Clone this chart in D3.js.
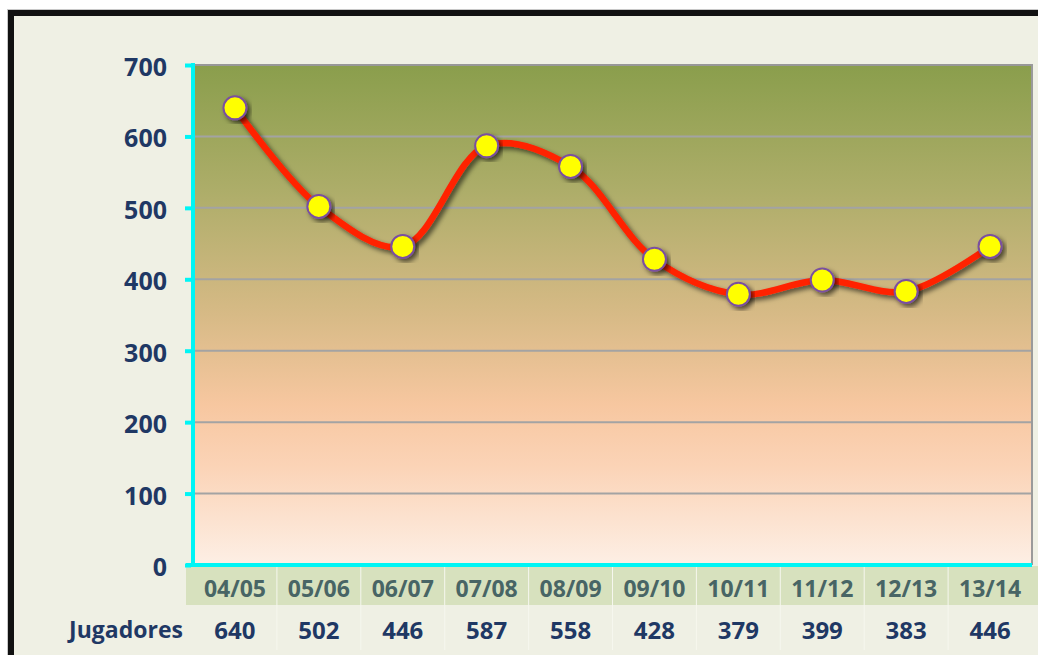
<!DOCTYPE html>
<html lang="es">
<head>
    <meta charset="UTF-8">
    <title>Jugadores</title>
    <style>
        html, body { margin: 0; padding: 0; background: #ffffff; overflow: hidden; }
        #chart { display: block; }
        text { font-family: "Open Sans", "Lato", sans-serif; font-weight: 700; }
    </style>
    <script src="https://d3js.org/d3.v7.min.js"></script>
</head>
<body>
    <svg id="chart"></svg>
    <script>
        const seasons = ['04/05', '05/06', '06/07', '07/08', '08/09', '09/10', '10/11', '11/12', '12/13', '13/14'];
        const jugadores = [640, 502, 446, 587, 558, 428, 379, 399, 383, 446];
        const yTicks = [0, 100, 200, 300, 400, 500, 600, 700];
        const rowLabel = 'Jugadores';

        const width = 1038;
        const height = 655;
        const plot = { left: 193, right: 1032, top: 65, bottom: 565 };

        const svg = d3.select('#chart')
            .attr('width', width)
            .attr('height', height);

        const defs = svg.append('defs');
        const grad = defs.append('linearGradient')
            .attr('id', 'bg')
            .attr('x1', 0).attr('y1', 0).attr('x2', 0).attr('y2', 1);
        [
            [0, '#8a9e4c'],
            [0.25, '#adad69'],
            [0.5, '#d7ba86'],
            [0.68, '#f7c7a0'],
            [0.8, '#fbd3b6'],
            [1, '#fdefe5']
        ].forEach(s => grad.append('stop').attr('offset', s[0]).attr('stop-color', s[1]));

        const shadow = defs.append('filter')
            .attr('id', 'shadow')
            .attr('x', '-20%').attr('y', '-20%').attr('width', '140%').attr('height', '140%');
        shadow.append('feDropShadow')
            .attr('dx', 3).attr('dy', 3).attr('stdDeviation', 2.5)
            .attr('flood-color', '#000').attr('flood-opacity', 0.6);

        // outer frame
        svg.append('rect').attr('x', 0).attr('y', 0).attr('width', width).attr('height', height).attr('fill', '#ffffff');
        svg.append('rect').attr('x', 7.5).attr('y', 9.5).attr('width', 1040).attr('height', 660)
            .attr('fill', 'none').attr('stroke', '#c8c8c8').attr('stroke-width', 1);
        svg.append('rect').attr('x', 11).attr('y', 13).attr('width', 1040).attr('height', 660)
            .attr('fill', '#eff0e4').attr('stroke', '#111').attr('stroke-width', 6);

        const x = d3.scaleBand()
            .domain(seasons)
            .range([plot.left, plot.right]);

        const y = d3.scaleLinear()
            .domain([0, 700])
            .range([plot.bottom, plot.top]);

        // plot background
        svg.append('rect')
            .attr('x', plot.left).attr('y', plot.top)
            .attr('width', plot.right - plot.left).attr('height', plot.bottom - plot.top)
            .attr('fill', 'url(#bg)');

        // grid
        svg.append('g')
            .selectAll('line')
            .data(yTicks.filter(d => d > 0))
            .join('line')
            .attr('x1', plot.left).attr('x2', plot.right)
            .attr('y1', d => y(d)).attr('y2', d => y(d))
            .attr('stroke', d => d === 700 ? '#979797' : '#a3a3a3')
            .attr('stroke-width', 2);

        // right border
        svg.append('line')
            .attr('x1', plot.right).attr('x2', plot.right)
            .attr('y1', plot.top - 1).attr('y2', plot.bottom)
            .attr('stroke', '#9a9a9a').attr('stroke-width', 2);

        // category band
        svg.append('rect')
            .attr('x', 186).attr('y', plot.bottom + 1)
            .attr('width', width - 186).attr('height', 39)
            .attr('fill', '#d7e1be');

        // table separators
        svg.append('g')
            .selectAll('line')
            .data(seasons.slice(1))
            .join('line')
            .attr('x1', d => x(d)).attr('x2', d => x(d))
            .attr('y1', plot.bottom + 1).attr('y2', 650)
            .attr('stroke', '#f6f7ee').attr('stroke-width', 1);

        // y axis with cyan line
        const yAxis = d3.axisLeft(y)
            .tickValues(yTicks)
            .tickSize(6)
            .tickPadding(20);
        const ga = svg.append('g')
            .attr('transform', `translate(${plot.left},0)`)
            .call(yAxis);
        ga.select('.domain').remove();
        ga.selectAll('.tick line')
            .attr('stroke', '#00f5f5').attr('stroke-width', 4)
            .attr('x1', -2).attr('x2', -8);
        ga.selectAll('.tick text')
            .attr('fill', '#1f3864')
            .attr('font-size', 25)
            .attr('dy', '0.42em')
            .attr('font-family', '"Open Sans", sans-serif')
            .attr('font-weight', 700);

        svg.append('line')
            .attr('x1', plot.left).attr('x2', plot.left)
            .attr('y1', plot.top - 2).attr('y2', plot.bottom + 2)
            .attr('stroke', '#00f5f5').attr('stroke-width', 4);
        svg.append('line')
            .attr('x1', 186).attr('x2', plot.right)
            .attr('y1', plot.bottom).attr('y2', plot.bottom)
            .attr('stroke', '#00f5f5').attr('stroke-width', 4);

        // category labels
        svg.append('g')
            .selectAll('text')
            .data(seasons)
            .join('text')
            .attr('x', d => x(d) + x.bandwidth() / 2)
            .attr('y', 589)
            .attr('dy', '0.36em')
            .attr('text-anchor', 'middle')
            .attr('font-size', 23)
            .attr('fill', '#486565')
            .text(d => d);

        // data row
        svg.append('text')
            .attr('x', 183).attr('y', 630).attr('dy', '0.36em')
            .attr('text-anchor', 'end')
            .attr('font-size', 23)
            .attr('fill', '#1f3864')
            .text(rowLabel);
        svg.append('g')
            .selectAll('text')
            .data(jugadores)
            .join('text')
            .attr('x', (d, i) => x(seasons[i]) + x.bandwidth() / 2)
            .attr('y', 630).attr('dy', '0.36em')
            .attr('text-anchor', 'middle')
            .attr('font-size', 24)
            .attr('fill', '#1f3864')
            .text(d => d);

        // line + markers
        const cx = (d, i) => x(seasons[i]) + x.bandwidth() / 2;
        const line = d3.line()
            .x(cx)
            .y(d => y(d))
            .curve(d3.curveCatmullRom.alpha(0.5));

        svg.append('path')
            .datum(jugadores)
            .attr('d', line)
            .attr('fill', 'none')
            .attr('stroke', '#ff2200')
            .attr('stroke-width', 6.5)
            .attr('stroke-linecap', 'round')
            .attr('filter', 'url(#shadow)');

        svg.append('g')
            .selectAll('circle')
            .data(jugadores)
            .join('circle')
            .attr('cx', cx)
            .attr('cy', d => y(d))
            .attr('r', 11.5)
            .attr('fill', '#ffff00')
            .attr('stroke', '#7a4fa0')
            .attr('stroke-width', 2)
            .attr('filter', 'url(#shadow)');
    </script>
</body>
</html>
